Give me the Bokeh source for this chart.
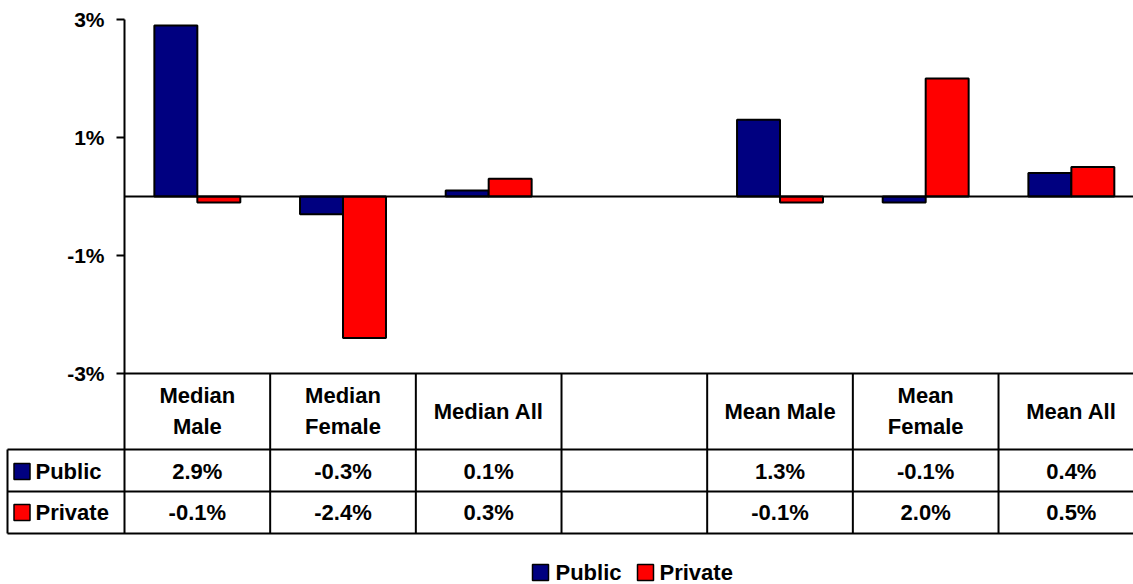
import numpy as np
from bokeh.plotting import figure
from bokeh.models import Range1d
from bokeh.core.properties import value
from bokeh.embed import file_html
from bokeh.resources import INLINE

# ---------------- data ----------------
categories = ["Median Male", "Median Female", "Median All", "", "Mean Male", "Mean Female", "Mean All"]
header_lines = [["Median", "Male"], ["Median", "Female"], ["Median All"], [], ["Mean Male"], ["Mean", "Female"], ["Mean All"]]
public = [2.9, -0.3, 0.1, None, 1.3, -0.1, 0.4]
private = [-0.1, -2.4, 0.3, None, -0.1, 2.0, 0.5]
series_names = ["Public", "Private"]
series_colors = ["#000080", "#FF0000"]
y_ticks = [-3, -1, 1, 3]

FONT = value("Liberation Sans")
W, H = 1133, 584
COLW = 145.67      # pixel width of one category column
AX_X = 124         # pixel x of value axis
PPU = 59.0         # pixels per 1%
Y3 = 19            # pixel y of 3%

def px(img_x):
    return -0.5 + (img_x - AX_X) / COLW

def py(img_y):
    return 3 - (img_y - Y3) / PPU

n = len(categories)
idx = np.arange(n, dtype=float)
pub = np.array([np.nan if v is None else v for v in public])
pri = np.array([np.nan if v is None else v for v in private])
off = 0.1475
bw = 0.295

p = figure(width=W, height=H, x_range=Range1d(px(0), px(W)), y_range=Range1d(py(H), py(0)),
           output_backend="svg", toolbar_location=None, x_axis_location=None, y_axis_location=None,
           min_border=0)
p.outline_line_color = None
p.xgrid.visible = False
p.ygrid.visible = False

# bars
p.vbar(x=idx - off, top=pub, bottom=0, width=bw, fill_color=series_colors[0],
       line_color="black", line_width=2)
p.vbar(x=idx + off, top=pri, bottom=0, width=bw, fill_color=series_colors[1],
       line_color="black", line_width=2)

XR = px(W + 5)
# zero line
p.segment(x0=[px(AX_X)], x1=[XR], y0=[0], y1=[0], line_color="black", line_width=2)

# value axis
y_tbl_bot = py(533)
p.segment(x0=[px(AX_X)], x1=[px(AX_X)], y0=[3], y1=[y_tbl_bot], line_color="black", line_width=2)
p.segment(x0=[px(AX_X - 8)] * len(y_ticks), x1=[px(AX_X)] * len(y_ticks), y0=y_ticks, y1=y_ticks,
          line_color="black", line_width=2)
p.text(x=[px(AX_X - 20)] * len(y_ticks), y=y_ticks, text=[f"{t}%" for t in y_ticks],
       text_font=FONT, text_font_style="bold", text_font_size="21px",
       text_align="right", text_baseline="middle", text_color="black")

# data table
y_hdr_bot, y_row1_bot = py(449), py(491)
x_left = px(7)
p.segment(x0=[px(AX_X), x_left, x_left, x_left], x1=[XR] * 4,
          y0=[-3, y_hdr_bot, y_row1_bot, y_tbl_bot], y1=[-3, y_hdr_bot, y_row1_bot, y_tbl_bot],
          line_color="black", line_width=2)
bounds = list(idx[1:] - 0.5)
p.segment(x0=bounds + [x_left], x1=bounds + [x_left],
          y0=[-3] * len(bounds) + [y_hdr_bot], y1=[y_tbl_bot] * (len(bounds) + 1),
          line_color="black", line_width=2)

TXT = dict(text_font=FONT, text_font_style="bold", text_font_size="22px",
           text_baseline="middle", text_color="black")

hx, hy, ht = [], [], []
for i, lines in enumerate(header_lines):
    if len(lines) == 1:
        hx.append(i); hy.append(py(411)); ht.append(lines[0])
    elif len(lines) == 2:
        hx += [i, i]; hy += [py(395), py(426)]; ht += lines
p.text(x=hx, y=hy, text=ht, text_align="center", **TXT)

row_y = [py(471), py(512)]
for vals, yy in zip([public, private], row_y):
    xs = [i for i, v in enumerate(vals) if v is not None]
    ts = [f"{vals[i]:.1f}%" for i in xs]
    p.text(x=xs, y=[yy] * len(xs), text=ts, text_align="center", **TXT)

p.scatter(x=[px(21.5)] * 2, y=row_y, marker="square", size=16, fill_color=series_colors,
          line_color="black", line_width=1.5)
p.text(x=[px(35)] * 2, y=row_y, text=series_names, text_align="left", **TXT)

# legend
leg_y = py(572)
p.scatter(x=[px(540), px(645)], y=[leg_y] * 2, marker="square", size=16, fill_color=series_colors,
          line_color="black", line_width=1.5)
p.text(x=[px(555), px(659)], y=[leg_y] * 2, text=series_names, text_align="left", **TXT)

open("out.html", "w").write(file_html(p, INLINE))
